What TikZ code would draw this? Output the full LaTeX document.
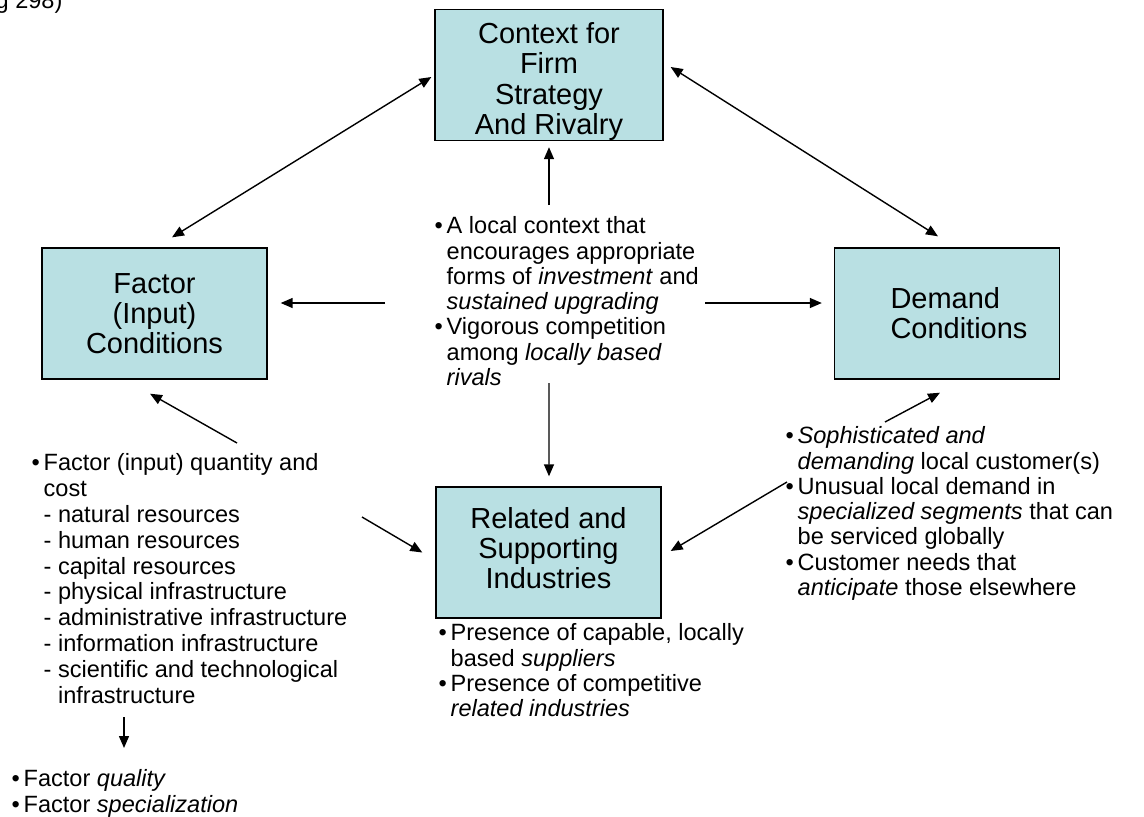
\documentclass[tikz,border=0pt]{standalone}
\usepackage{fontspec}
\setmainfont{Liberation Sans}
\usetikzlibrary{arrows.meta, calc}
\definecolor{boxfill}{RGB}{185,224,227}
\newcommand{\bitem}{\makebox[2.4mm][l]{•}}
\newcommand{\bcont}{\hspace*{2.4mm}}
% box text moved up or down, keeping its size
\newcommand{\boxtext}[2]{\raisebox{#1}[\height][\depth]{%
  \begin{tabular}{@{}c@{}}#2\end{tabular}}}
\tikzset{
  pdgm/.style={x=0.02cm, y=-0.02cm,
              >={Triangle[length=2.4mm, width=2mm]}, line width=0.8pt},
  blk/.style={draw, fill=boxfill, align=center, inner sep=2pt,
              minimum width=4.5cm, minimum height=2.62cm,
              font=\fontsize{16.5}{17.2}\selectfont},
  lst/.style={align=left, inner sep=0pt, anchor=north west,
              font=\fontsize{13.4}{14.4}\selectfont},
  ar/.style={->},
  dar/.style={<->}
}

\begin{document}
\begin{tikzpicture}[pdgm]
    \useasboundingbox (0,0) rectangle (1144,816);
    \clip (0,0) rectangle (1144,816);
    \node[lst, anchor=base west] (cite) at (-5,8) {g 298)};

    % four determinants
    \node[blk, minimum width=4.56cm] (ctx) at (549,75)
         {\boxtext{-0.16cm}{Context for\\Firm\\Strategy\\And Rivalry}};
    \node[blk] (fac) at (154.5,313.5) {Factor\\(Input)\\Conditions};
    \node[blk, align=left] (dem) at (947,313.5)
         {\hspace*{0.48cm}Demand\\\hspace*{0.48cm}Conditions};
    \node[blk] (rel) at (548.5,552.5)
         {\boxtext{0cm}{Related and\\Supporting\\Industries}};

    % bullet lists
    \node[lst] (rivtxt) at (434,216) {\bitem A local context that\\
      \bcont encourages appropriate\\
      \bcont forms of \emph{investment} and\\
      \bcont\emph{sustained upgrading}\\
      \bitem Vigorous competition\\
      \bcont among \emph{locally based}\\
      \bcont\emph{rivals}};
    \node[lst, font=\fontsize{13.4}{14.7}\selectfont] (factxt) at (31,453)
     {\bitem Factor (input) quantity and\\
      \bcont cost\\
      \bcont - natural resources\\
      \bcont - human resources\\
      \bcont - capital resources\\
      \bcont - physical infrastructure\\
      \bcont - administrative infrastructure\\
      \bcont - information infrastructure\\
      \bcont - scientific and technological\\
      \bcont\phantom{- }infrastructure};
    \node[lst] (qualtxt) at (11,769) {\bitem Factor \emph{quality}\\
      \bitem Factor \emph{specialization}};
    \node[lst] (demtxt) at (785,426) {\bitem\emph{Sophisticated and}\\
      \bcont\emph{demanding} local customer(s)\\
      \bitem Unusual local demand in\\
      \bcont\emph{specialized segments} that can\\
      \bcont be serviced globally\\
      \bitem Customer needs that\\
      \bcont\emph{anticipate} those elsewhere};
    \node[lst] (reltxt) at (438,623) {\bitem Presence of capable, locally\\
      \bcont based \emph{suppliers}\\
      \bitem Presence of competitive\\
      \bcont\emph{related industries}};

    % free ends of the arrows
    \coordinate (up0) at (549,205);
    \coordinate (lf0) at (385,303);
    \coordinate (rt0) at (705,303);
    \coordinate (dn0) at (549,383);
    \coordinate (fl0) at (237,443);
    \coordinate (fl1) at (362,517);
    \coordinate (dl0) at (885,422);
    \coordinate (dl1) at (787,482);
    \coordinate (fq0) at (124,717);
    \coordinate (fq1) at (124,748);

    \draw[dar] ($(ctx.west)+(-3,2)$) -- ($(fac.north)+(17.5,-10)$);
    \draw[dar] ($(ctx.east)+(7,-8)$) -- ($(dem.north)+(-9,-11)$);

    \draw[ar] (up0) -- ($(ctx.south)+(0,6)$);
    \draw[ar] (lf0) -- ($(fac.east)+(13,-10.5)$);
    \draw[ar] (rt0) -- ($(dem.west)+(-12,-10.5)$);
    \draw[ar] (dn0) -- ($(rel.north)+(0.5,-10)$);

    \draw[ar] (fl0) -- ($(fac.south)+(-4.5,14)$);
    \draw[ar] (fl1) -- ($(rel.west)+(-13,0)$);
    \draw[ar] (dl0) -- ($(dem.south)+(-7,13)$);
    \draw[ar] (dl1) -- ($(rel.east)+(9,-1.5)$);
    \draw[ar] (fq0) -- (fq1);
\end{tikzpicture}
\end{document}
